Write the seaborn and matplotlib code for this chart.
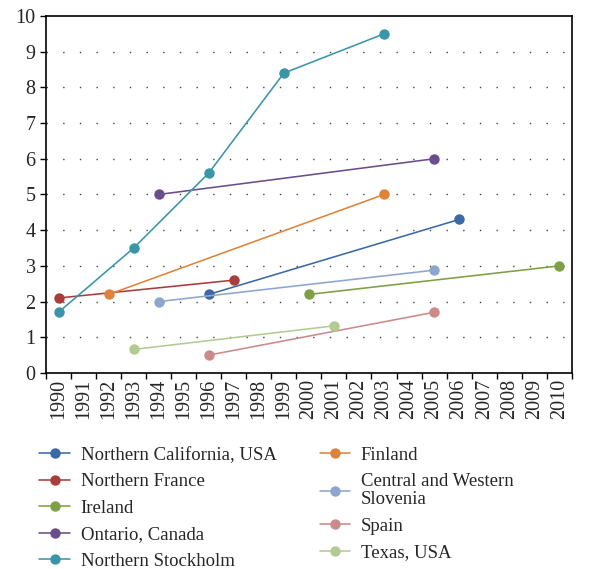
import matplotlib
matplotlib.use("Agg")
import matplotlib.pyplot as plt
import seaborn as sns
import pandas as pd
import numpy as np

regions = ["Northern California, USA", "Northern France", "Ireland", "Ontario, Canada",
           "Northern Stockholm", "Finland", "Central and Western\nSlovenia", "Spain", "Texas, USA"]
years = {
    "Northern California, USA": [1996, 2006],
    "Northern France": [1990, 1997],
    "Ireland": [2000, 2010],
    "Ontario, Canada": [1994, 2005],
    "Northern Stockholm": [1990, 1993, 1996, 1999, 2003],
    "Finland": [1992, 2003],
    "Central and Western\nSlovenia": [1994, 2005],
    "Spain": [1996, 2005],
    "Texas, USA": [1993, 2001],
}
values = {
    "Northern California, USA": [2.2, 4.3],
    "Northern France": [2.1, 2.6],
    "Ireland": [2.2, 3.0],
    "Ontario, Canada": [5.0, 6.0],
    "Northern Stockholm": [1.7, 3.5, 5.6, 8.4, 9.5],
    "Finland": [2.2, 5.0],
    "Central and Western\nSlovenia": [2.0, 2.88],
    "Spain": [0.5, 1.7],
    "Texas, USA": [0.66, 1.32],
}
colors = ["#3C68A8", "#A83E3C", "#7E9F44", "#6A4E8C", "#3A95A8",
          "#E0833A", "#8EA6CE", "#CC8A8A", "#B2CB93"]
year_labels = list(range(1990, 2011))

rows = []
for r in regions:
    for y, v in zip(years[r], values[r]):
        rows.append({"region": r, "year": y, "value": v})
df = pd.DataFrame(rows)

sns.set_theme(style="white")
plt.rcParams["font.family"] = ["Liberation Serif", "DejaVu Serif"]

fig = plt.figure(figsize=(5.95, 5.69), dpi=100)
ax = fig.add_axes([0.0773, 0.3445, 0.8837, 0.6274])

sns.lineplot(data=df, x="year", y="value", hue="region", hue_order=regions,
             palette=dict(zip(regions, colors)), marker="o", markersize=7.5,
             markeredgewidth=0, linewidth=1.15, estimator=None, sort=False,
             legend=True, ax=ax)

ax.set_xlim(year_labels[0] - 0.5, year_labels[-1] + 0.5)
ax.set_ylim(0, 10)
ax.set_xticks(year_labels)
ax.set_xticklabels([str(y) for y in year_labels], rotation=90, fontsize=14.5)
ax.set_xticks(np.arange(year_labels[0] - 0.5, year_labels[-1] + 1.0, 1.0), minor=True)
ax.tick_params(axis="x", which="major", length=0, pad=4)
ax.tick_params(axis="x", which="minor", length=4.5, width=1, color="black", direction="out", bottom=True)
ax.set_yticks(range(0, 11))
ax.tick_params(axis="y", labelsize=14.5, length=4.5, width=1, color="black", direction="out", left=True, pad=3)
ax.set_xlabel("")
ax.set_ylabel("")
for sp in ax.spines.values():
    sp.set_visible(True)
    sp.set_color("black")
    sp.set_linewidth(1.2)
for yv in range(1, 10):
    ax.axhline(yv, color="#444444", linewidth=1.0, linestyle=(0, (1, 11)), zorder=0)

handles, labels = ax.get_legend_handles_labels()
ax.get_legend().remove()
leg = fig.legend(handles, labels, loc="upper left", bbox_to_anchor=(0.066, 0.215), ncol=2,
                 frameon=False, fontsize=13.5, handlelength=1.65, columnspacing=2.3,
                 labelspacing=0.5, handletextpad=0.55, borderaxespad=0, borderpad=0)
for t in leg.get_texts():
    t.set_linespacing(1.1)

fig.savefig("out.png", dpi=100)
